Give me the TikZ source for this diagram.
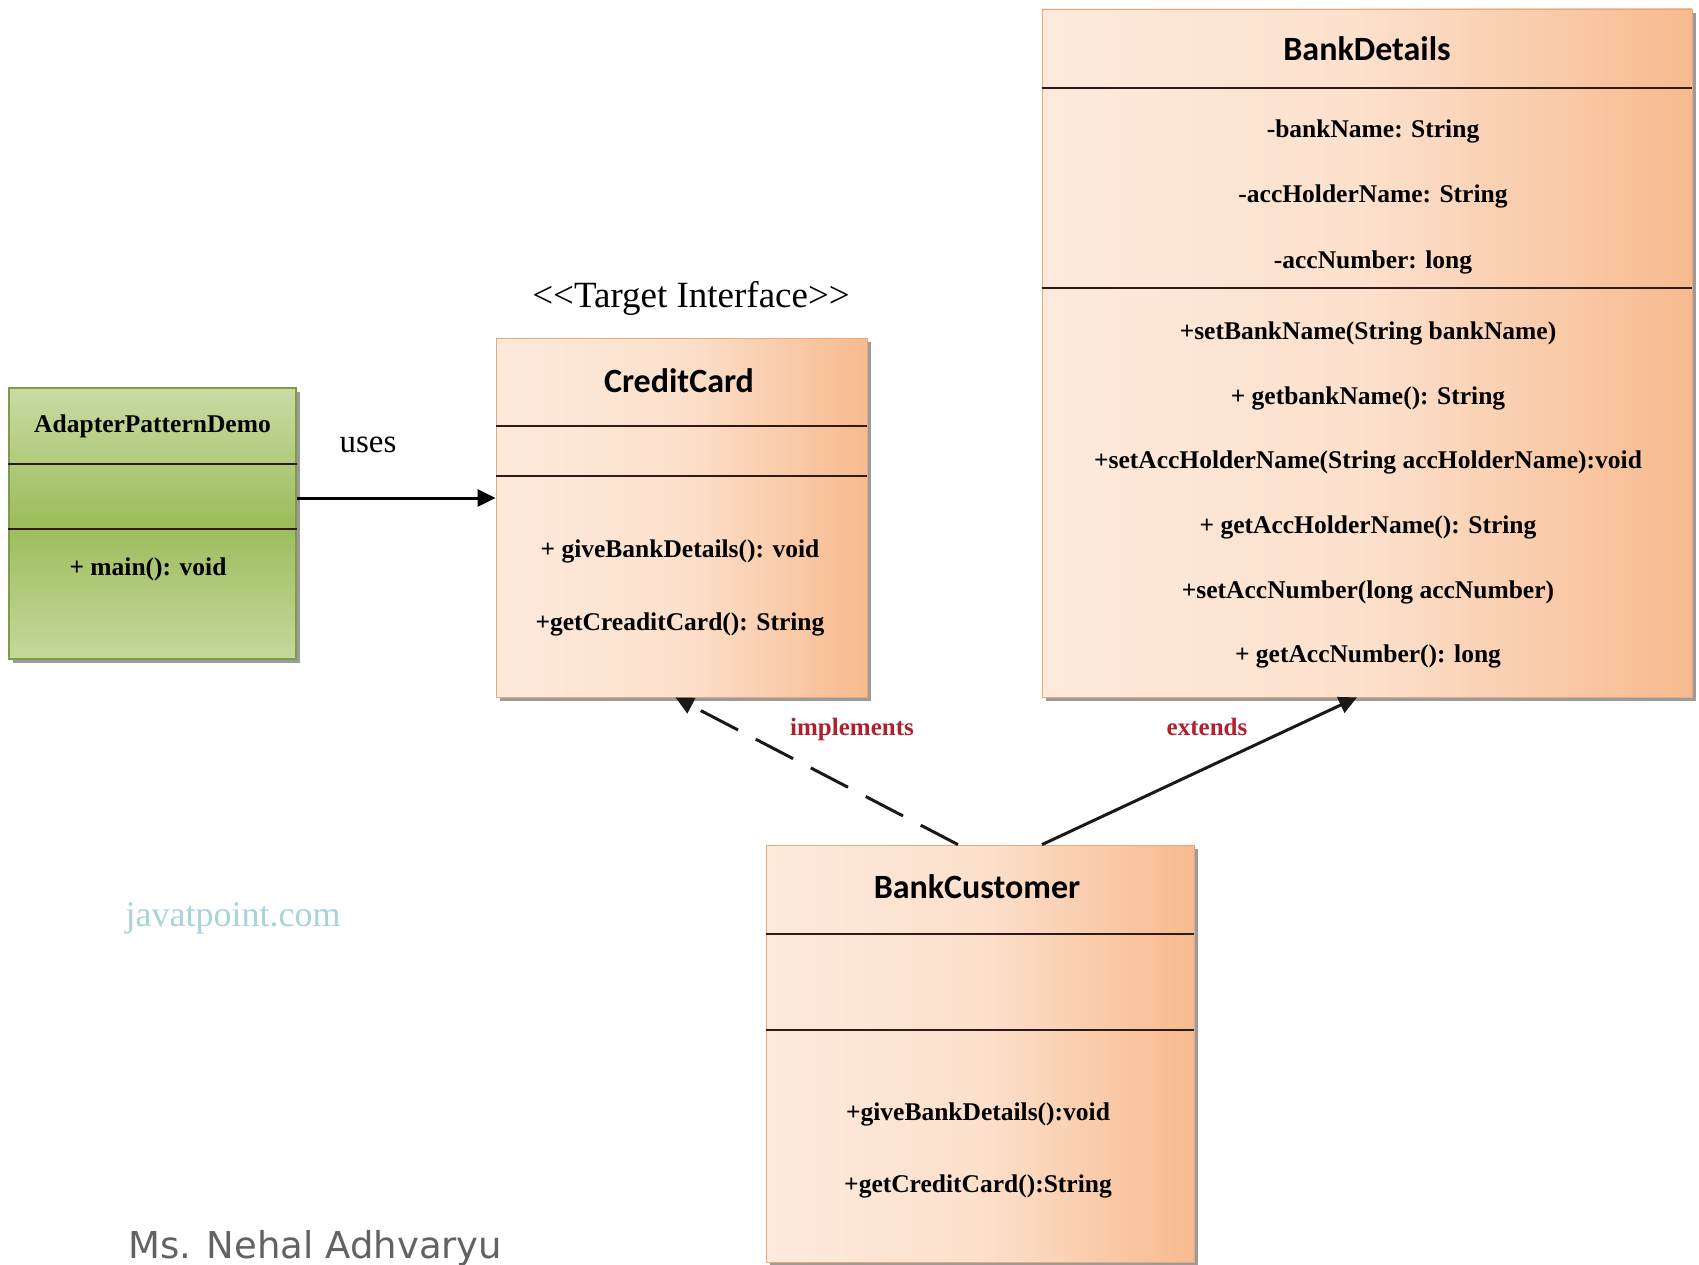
\documentclass[tikz,border=0pt]{standalone}
\usepackage{fontspec}
\setmainfont{Liberation Serif}
\newfontfamily\clsfont{Carlito}
\newfontfamily\sigfont{DejaVu Sans}
\usetikzlibrary{arrows.meta,shadows,calc}

\definecolor{peachL}{HTML}{FDEADC}
\definecolor{peachD}{HTML}{F7BA8E}
\definecolor{peachB}{HTML}{E8A878}
\definecolor{greenL}{HTML}{C9DBA4}
\definecolor{greenD}{HTML}{9DBC5C}
\definecolor{greenB}{HTML}{7E9C45}
\definecolor{divc}{HTML}{2E1A16}
\definecolor{relred}{HTML}{B0202E}
\definecolor{wmark}{HTML}{A8D4D9}
\definecolor{sigc}{HTML}{626262}

\tikzset{
  boxshadow/.style={drop shadow={shadow xshift=4pt, shadow yshift=-4pt, fill=black!60, opacity=0.65}},
  umlbox/.style={rectangle, inner sep=0pt, draw=peachB, line width=0.8pt,
    left color=peachL, right color=peachD, middle color=peachL!80!peachD, boxshadow},
  greenbox/.style={rectangle, inner sep=0pt, draw=greenB, line width=1.2pt,
    top color=greenL, bottom color=greenL!90!greenD, middle color=greenD, boxshadow},
  divider/.style={line width=2pt, draw=divc},
  clsname/.style={font=\clsfont\bfseries\fontsize{34}{40}\selectfont, inner sep=0pt,
    text height=24pt, text depth=0pt},
  member/.style={font=\bfseries\fontsize{25.5}{30}\selectfont, inner sep=0pt,
    text height=18pt, text depth=0pt},
  rellabel/.style={font=\bfseries\fontsize{25}{30}\selectfont, text=relred, inner sep=0pt,
    text height=18pt, text depth=0pt},
  assoc/.style={line width=3pt, draw=black, -{Triangle[length=18pt,width=17pt]}},
  realize/.style={line width=3pt, draw=black!90, dash pattern=on 42pt off 20pt,
    -{Triangle[length=18pt,width=17pt]}},
  generalize/.style={line width=3pt, draw=black!90, -{Triangle[length=18pt,width=17pt]}},
}

\begin{document}
\begin{tikzpicture}[x=1pt,y=-1pt]
\useasboundingbox (0,0) rectangle (1699,1265);

% class boxes
\node[greenbox, minimum width=287pt, minimum height=271pt] (apd) at (152.5,523.5) {};
\node[umlbox, minimum width=371pt, minimum height=359pt] (cc) at (681.5,517.5) {};
\node[umlbox, minimum width=650pt, minimum height=688pt] (bd) at (1367,353) {};
\node[umlbox, minimum width=428pt, minimum height=417pt] (bc) at (980,1053.5) {};

% compartment dividers
\draw[divider] ($(apd.north west)+(0,77)$) -- ($(apd.north east)+(0,77)$);
\draw[divider] ($(apd.north west)+(0,142)$) -- ($(apd.north east)+(0,142)$);
\draw[divider] ($(cc.north west)+(0,88)$) -- ($(cc.north east)+(0,88)$);
\draw[divider] ($(cc.north west)+(0,138)$) -- ($(cc.north east)+(0,138)$);
\draw[divider] ($(bd.north west)+(0,79)$) -- ($(bd.north east)+(0,79)$);
\draw[divider] ($(bd.north west)+(0,279)$) -- ($(bd.north east)+(0,279)$);
\draw[divider] ($(bc.north west)+(0,89)$) -- ($(bc.north east)+(0,89)$);
\draw[divider] ($(bc.north west)+(0,185)$) -- ($(bc.north east)+(0,185)$);

% AdapterPatternDemo
\node[member] (apdname) at (152.5,423) {AdapterPatternDemo};
\node[member] (apdm1) at (148,566) {+ main(): void};

% CreditCard
\node[font=\fontsize{37}{44}\selectfont, inner sep=0pt] (stereo) at (691,298) {<{}<Target Interface>{}>};
\node[clsname] (ccname) at (679,380) {CreditCard};
\node[member] (ccm1) at (680,548) {+ giveBankDetails(): void};
\node[member] (ccm2) at (680,621) {+getCreaditCard(): String};

% BankDetails
\node[clsname] (bdname) at (1367,49) {BankDetails};
\node[member] (bda1) at (1373,129) {-bankName: String};
\node[member] (bda2) at (1373,194) {-accHolderName: String};
\node[member] (bda3) at (1373,260) {-accNumber: long};
\node[member] (bdm1) at (1368,330) {+setBankName(String bankName)};
\node[member] (bdm2) at (1368,395) {+ getbankName(): String};
\node[member] (bdm3) at (1368,459) {+setAccHolderName(String accHolderName):void};
\node[member] (bdm4) at (1368,524) {+ getAccHolderName(): String};
\node[member] (bdm5) at (1368,589) {+setAccNumber(long accNumber)};
\node[member] (bdm6) at (1368,653) {+ getAccNumber(): long};

% BankCustomer
\node[clsname] (bcname) at (977,886) {BankCustomer};
\node[member] (bcm1) at (978,1111) {+giveBankDetails():void};
\node[member] (bcm2) at (978,1183) {+getCreditCard():String};

% relations
\draw[assoc] ($(apd.east)+(0,-25.5)$) -- ($(cc.west)+(0,-19.5)$);
\node[font=\fontsize{33}{40}\selectfont, inner sep=0pt] (uses) at (368,445) {uses};

\draw[realize] ($(bc.north)+(-22,0)$) -- ($(cc.south)+(-6,0)$);
\node[rellabel] (impl) at (852,726) {implements};

\draw[generalize] ($(bc.north)+(62,0)$) -- ($(bd.south)+(-10,0)$);
\node[rellabel] (ext) at (1207,726) {extends};

% watermark and author
\node[font=\fontsize{36}{42}\selectfont, text=wmark, inner sep=0pt] (wm) at (233,918) {javatpoint.com};
\node[font=\sigfont\fontsize{37}{44}\selectfont, text=sigc, inner sep=0pt, anchor=base west] (author) at (128,1258) {Ms. Nehal Adhvaryu};
\end{tikzpicture}
\end{document}
